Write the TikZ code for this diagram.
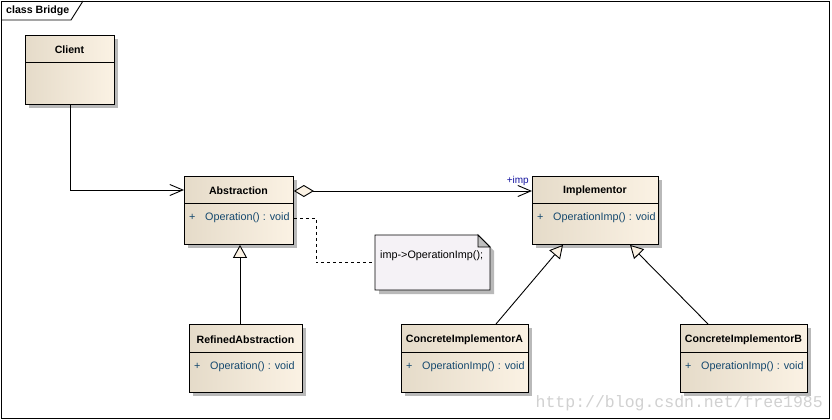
\documentclass[tikz,border=0pt]{standalone}
\usepackage{fontspec}
\setmainfont{Liberation Sans}
\newfontfamily\wmfont{Liberation Mono}
\usetikzlibrary{arrows.meta,shadows}
\definecolor{clsL}{RGB}{229,219,201}
\definecolor{clsR}{RGB}{251,242,228}
\definecolor{notefill}{RGB}{245,242,246}
\definecolor{optext}{RGB}{20,72,110}
\definecolor{impblue}{RGB}{20,20,160}
\definecolor{shadowgray}{RGB}{185,185,185}
\tikzset{
  classbox/.style={draw=black, line width=0.9pt, left color=clsL, right color=clsR,
    drop shadow={shadow xshift=4pt, shadow yshift=-4pt, fill=shadowgray, opacity=1},
    inner sep=0pt, anchor=north west},
  ctitle/.style={font=\fontsize{10.6}{12}\selectfont\bfseries, inner sep=0pt},
  cop/.style={font=\fontsize{10.8}{12}\selectfont, text=optext, inner sep=0pt, anchor=west},
  conn/.style={draw=black, line width=0.9pt},
  assoc/.style={conn, -{Straight Barb[length=13pt,width=11pt,line width=0.9pt]}},
  aggr/.style={conn, {Diamond[length=20pt,width=12pt,fill=clsR,line width=0.9pt]}-{Straight Barb[length=13pt,width=11pt,line width=0.9pt]}},
  gen/.style={conn, -{Triangle[length=13pt,width=14pt,fill=clsR,line width=0.9pt]}},
  notelink/.style={conn, dash pattern=on 3pt off 3pt},
}
\newcommand{\umlclass}[8]{%
  \node[classbox, minimum width={#4pt-#2pt}, minimum height={#5pt-#3pt}] (#1) at (#2,#3) {};
  \draw[conn] (#2,#6) -- (#4,#6);
  \node[ctitle] (#1-t) at ({(#2+#4)/2},{(#3+#6)/2+1.5}) {#7};
  \if\relax\detokenize{#8}\relax\else
    \node[cop] (#1-p) at ({#2+5},{#6+14.5}) {+};
    \node[cop] (#1-op) at ({#2+21},{#6+14.5}) {#8};
  \fi
}
\begin{document}
\begin{tikzpicture}[x=1pt,y=-1pt]
\useasboundingbox (0,0) rectangle (832,420);
\fill[white] (0,0) rectangle (832,420);
% frame
\draw[conn] (1,1) rectangle (829,418);
\draw[conn] (1,20) -- (71,20) -- (83,1);
\node[font=\fontsize{10.6}{12}\selectfont\bfseries, anchor=west, inner sep=0pt] (frametitle) at (6,11) {class Bridge};
% watermark
\node[font=\wmfont\fontsize{16.5}{18}\selectfont, text=black!18, anchor=base east, inner sep=0pt] (wm) at (823,407) {http://blog.csdn.net/free1985};
% classes
\umlclass{cli}{25}{35}{114}{104}{62}{Client}{}
\umlclass{abs}{184}{176}{293}{244}{203}{Abstraction}{Operation() : void}
\umlclass{imp}{532}{176}{658}{244}{203}{Implementor}{OperationImp() : void}
\umlclass{ref}{189}{324}{302}{392}{352}{RefinedAbstraction}{Operation() : void}
\umlclass{cia}{401}{324}{528}{392}{352}{ConcreteImplementorA}{OperationImp() : void}
\umlclass{cib}{680}{324}{807}{392}{352}{ConcreteImplementorB}{OperationImp() : void}
% note
\fill[shadowgray] (379,239) -- (482,239) -- (494,251) -- (494,294) -- (379,294) -- cycle;
\node[inner sep=0pt, minimum width=115pt, minimum height=55pt, anchor=north west] (note) at (375,235) {};
\filldraw[conn, fill=notefill] (375,235) -- (478,235) -- (490,247) -- (490,290) -- (375,290) -- cycle;
\filldraw[conn, fill=black!25] (478,235) -- (478,247) -- (490,247) -- cycle;
\node[font=\fontsize{10.8}{12}\selectfont, anchor=west, inner sep=0pt] (notetext) at (380,256) {imp->OperationImp();};
% connectors
\draw[assoc] (cli.south) |- (abs.west |- 0,190);
\draw[aggr] (abs.east |- 0,191) -- (imp.west |- 0,191);
\node[font=\fontsize{10}{11}\selectfont, text=impblue, anchor=south east, inner sep=0pt] (implabel) at (529,186) {+imp};
\draw[notelink] (abs.east |- 0,218) -- (316,218) |- (note.west);
\draw[gen] (ref.north -| 240,0) -- (abs.south -| 240,0);
\draw[gen] (cia.north -| 496,0) -- (imp.south -| 563,0);
\draw[gen] (cib.north -| 708,0) -- (imp.south -| 630,0);
\end{tikzpicture}
\end{document}
